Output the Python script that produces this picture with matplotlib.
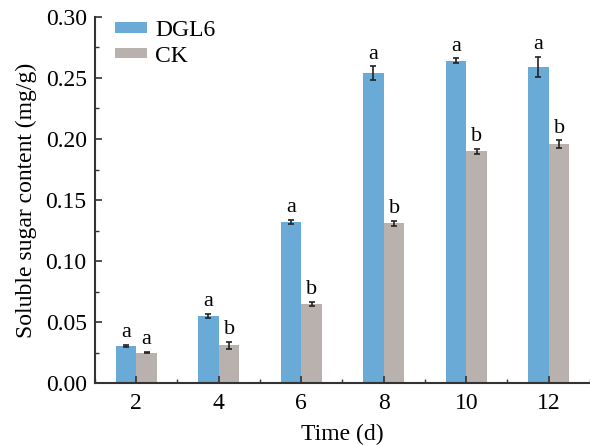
import numpy as np
import matplotlib.pyplot as plt
from matplotlib.ticker import MultipleLocator

plt.rcParams['font.family'] = ['Liberation Serif', 'DejaVu Serif']

days = [2, 4, 6, 8, 10, 12]
dgl6 = [0.0306, 0.0552, 0.132, 0.254, 0.264, 0.259]
dgl6_err = [0.001, 0.0015, 0.002, 0.0055, 0.002, 0.0085]
ck = [0.0250, 0.031, 0.0648, 0.131, 0.190, 0.196]
ck_err = [0.0006, 0.003, 0.002, 0.002, 0.002, 0.003]
dgl6_sig = ['a', 'a', 'a', 'a', 'a', 'a']
ck_sig = ['a', 'b', 'b', 'b', 'b', 'b']

fig = plt.figure(figsize=(5.9, 4.46), dpi=100)
ax = fig.add_axes([0.161, 0.141, 0.839, 0.821])

x = np.array(days, dtype=float)
w = 0.5
ekw = dict(ecolor='#222222', elinewidth=1.2, capsize=2.5, capthick=1.2)
ax.bar(x - w/2, dgl6, w, yerr=dgl6_err, color='#69aad6', label='DGL6', error_kw=ekw)
ax.bar(x + w/2, ck, w, yerr=ck_err, color='#b9b1ae', label='CK', error_kw=ekw)

# letras iznad error barova
for xi, v, e, s in zip(x - w/2, dgl6, dgl6_err, dgl6_sig):
    ax.text(xi, v + e + 0.002, s, ha='center', va='bottom', fontsize=16)
for xi, v, e, s in zip(x + w/2, ck, ck_err, ck_sig):
    ax.text(xi, v + e + 0.002, s, ha='center', va='bottom', fontsize=16)

ax.set_xlim(1, 13)
ax.set_ylim(0, 0.30)
ax.set_xticks(days)
ax.xaxis.set_minor_locator(MultipleLocator(1))
ax.yaxis.set_major_locator(MultipleLocator(0.05))
ax.yaxis.set_minor_locator(MultipleLocator(0.025))
ax.yaxis.set_major_formatter(plt.FormatStrFormatter('%.2f'))

for sp in ['top', 'right']:
    ax.spines[sp].set_visible(False)
for sp in ['left', 'bottom']:
    ax.spines[sp].set_linewidth(1.5)
    ax.spines[sp].set_color('#333333')

ax.tick_params(axis='both', which='major', direction='in', length=5, width=1.2,
               labelsize=17, color='#333333')
ax.tick_params(axis='both', which='minor', direction='in', length=3, width=1.0,
               color='#333333')
ax.tick_params(axis='x', which='major', pad=7)
ax.tick_params(axis='y', which='major', pad=6)

ax.set_xlabel('Time (d)', fontsize=17, labelpad=7)
ax.set_ylabel('Soluble sugar content (mg/g)', fontsize=17, labelpad=6)

ax.legend(loc='upper left', bbox_to_anchor=(-0.003, 1.05), frameon=False, fontsize=17,
          handlelength=1.35, handleheight=0.3, handletextpad=0.35, labelspacing=0.2)

plt.savefig('out.png', dpi=100)
